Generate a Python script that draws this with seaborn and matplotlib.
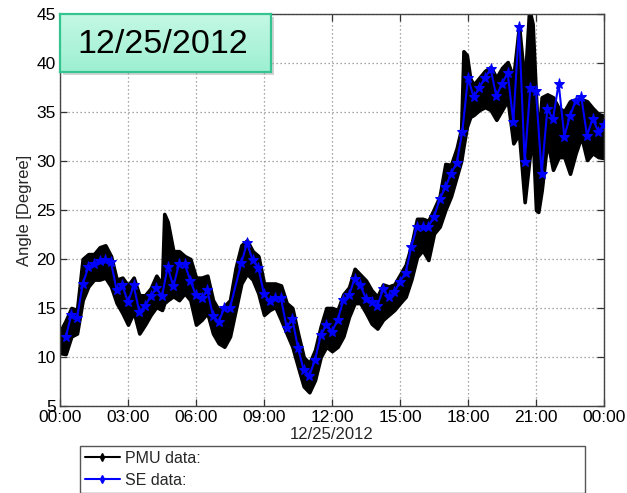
import numpy as np
import pandas as pd
import matplotlib
matplotlib.use("Agg")
import matplotlib.pyplot as plt
from matplotlib.lines import Line2D
from matplotlib.patches import Rectangle
from matplotlib.colors import LinearSegmentedColormap
import seaborn as sns

# ---------------- data ----------------
# SE estimates, every 15 minutes (hours since 00:00)
se_hours = [0.25 * k for k in range(1, 97) if k != 31]
se_angle = [12.0, 14.3, 14.0, 17.4, 19.2, 19.5, 19.8, 19.9, 19.7, 16.8,
            17.3, 15.6, 17.3, 14.6, 15.2, 16.2, 17.0, 16.2, 19.2, 17.2,
            19.5, 19.5, 17.8, 16.3, 16.0, 16.8, 14.2, 13.6, 15.0, 15.0,
            19.6, 21.6, 19.9, 19.1, 16.4, 15.7, 16.0, 16.0, 13.0, 13.9,
            10.9, 8.7, 8.1, 9.7, 12.2, 13.3, 12.6, 13.8, 15.8, 16.3,
            18.0, 17.3, 15.95, 15.6, 15.2, 16.9, 16.1, 16.6, 17.7, 18.6,
            21.25, 23.3, 23.3, 23.3, 24.3, 26.1, 27.3, 28.7, 29.8, 33.0,
            38.5, 36.5, 37.5, 38.5, 39.4, 36.6, 37.9, 39.0, 34.0, 43.7,
            29.9, 37.5, 37.1, 28.7, 35.3, 34.3, 37.9, 32.5, 34.6, 36.15,
            36.5, 32.6, 34.3, 33.0, 33.7]

# PMU data envelope (min / max of the high-rate measurements)
pmu_hours = [0.0, 0.25, 0.5, 0.75, 1.0, 1.25, 1.5, 1.75, 2.0, 2.25,
             2.5, 2.75, 3.0, 3.25, 3.5, 3.75, 4.0, 4.25, 4.5, 4.6,
             4.75, 5.0, 5.25, 5.5, 5.75, 6.0, 6.25, 6.5, 6.75, 7.0,
             7.25, 7.5, 7.75, 8.0, 8.25, 8.5, 8.75, 9.0, 9.25, 9.5,
             9.75, 10.0, 10.25, 10.5, 10.75, 11.0, 11.25, 11.5, 11.75, 12.0,
             12.25, 12.5, 12.75, 13.0, 13.25, 13.5, 13.75, 14.0, 14.25, 14.5,
             14.75, 15.0, 15.25, 15.5, 15.75, 16.0, 16.25, 16.5, 16.75, 17.0,
             17.25, 17.5, 17.7, 17.8, 17.95, 18.1, 18.25, 18.5, 18.75, 19.0,
             19.25, 19.5, 19.75, 20.0, 20.25, 20.5, 20.7, 20.85, 21.0, 21.1,
             21.25, 21.5, 21.75, 22.0, 22.25, 22.5, 22.75, 23.0, 23.25, 23.5,
             23.75, 24.0]
pmu_lower = [10.4, 10.3, 12.1, 12.4, 15.8, 17.2, 17.9, 17.9, 18.1, 17.2,
             15.5, 14.5, 13.3, 14.6, 12.4, 13.3, 14.3, 15.1, 14.8, 15.5,
             15.8, 16.2, 15.8, 16.5, 15.8, 13.3, 13.8, 14.5, 12.4, 11.4,
             11.05, 12.1, 14.8, 17.5, 18.5, 17.9, 16.5, 14.3, 14.8, 15.1,
             13.8, 12.4, 11.05, 9.0, 7.0, 6.4, 7.65, 10.0, 11.05, 10.6,
             11.05, 12.1, 14.1, 15.5, 15.5, 14.5, 13.4, 12.9, 13.8, 14.3,
             14.8, 15.5, 16.15, 17.9, 20.2, 20.9, 19.9, 22.6, 23.3, 25.0,
             26.4, 28.4, 30.0, 31.5, 33.5, 34.5, 34.7, 35.2, 35.5, 35.2,
             34.2, 35.2, 36.2, 31.8, 32.8, 25.8, 30.0, 33.0, 25.0, 24.8,
             27.0, 32.1, 29.1, 30.4, 30.4, 28.7, 30.8, 32.5, 30.1, 30.8,
             30.4, 30.3]
pmu_upper = [12.6, 13.7, 15.0, 14.8, 20.0, 20.5, 20.5, 21.2, 21.4, 20.3,
             17.9, 18.1, 17.3, 18.1, 16.3, 16.3, 17.0, 18.3, 17.4, 24.6,
             23.8, 20.8, 20.8, 20.3, 20.0, 18.1, 18.1, 18.3, 15.8, 14.8,
             15.2, 15.8, 19.1, 21.4, 21.9, 20.8, 20.3, 17.5, 17.5, 17.5,
             17.3, 15.5, 15.0, 12.4, 10.0, 9.35, 10.7, 13.1, 15.0, 15.0,
             14.8, 16.4, 17.1, 19.0, 18.4, 17.8, 16.8, 16.15, 17.4, 17.2,
             17.4, 18.4, 19.4, 21.4, 24.1, 24.1, 23.9, 25.1, 26.4, 29.7,
             29.6, 31.3, 33.3, 41.2, 40.8, 38.4, 37.8, 38.5, 39.2, 39.6,
             38.5, 39.5, 40.1, 38.5, 43.8, 37.8, 45.5, 44.0, 36.5, 32.1,
             36.5, 36.8, 36.5, 35.4, 35.1, 36.1, 36.3, 36.3, 36.1, 35.4,
             34.8, 34.6]

y_ticks = [5, 10, 15, 20, 25, 30, 35, 40, 45]
x_ticks = [0, 3, 6, 9, 12, 15, 18, 21, 24]
x_tick_labels = ["00:00", "03:00", "06:00", "09:00", "12:00",
                 "15:00", "18:00", "21:00", "00:00"]
date_label = "12/25/2012"
legend_labels = ["PMU data:", "SE data:"]

# ---------------- style ----------------
sns.set_theme(style="white")
plt.rcParams["font.family"] = ["Liberation Sans", "DejaVu Sans"]

W, H = 627, 493
fig = plt.figure(figsize=(W / 100, H / 100), dpi=100)
ax = fig.add_axes([60 / W, 1 - 406 / H, 544 / W, 392 / H])

pmu_df = pd.DataFrame({
    "hour": pmu_hours + pmu_hours,
    "angle": pmu_lower + pmu_upper,
})
se_df = pd.DataFrame({"hour": se_hours, "angle": se_angle})

sns.lineplot(data=pmu_df, x="hour", y="angle", estimator="mean",
             errorbar=("pi", 100), color="black", linewidth=1.0,
             err_kws=dict(alpha=1.0, linewidth=2.6, edgecolor="black",
                          facecolor="black", joinstyle="round"),
             ax=ax, zorder=2)
sns.lineplot(data=se_df, x="hour", y="angle", color="#0000ff",
             linewidth=1.5, marker="*", markersize=8,
             markeredgecolor="#0000ff", markerfacecolor="#0000ff",
             errorbar=None, ax=ax, zorder=3)

ax.set_xlim(0, 24)
ax.set_ylim(5, 45)
ax.set_xticks(x_ticks)
ax.set_xticklabels(x_tick_labels)
ax.set_yticks(y_ticks)
ax.grid(True, color="#8c8c8c", linestyle=(0, (1, 2.2)), linewidth=0.9)
ax.tick_params(direction="in", length=5, width=0.9, colors="#333333",
               labelcolor="black", labelsize=12.5, pad=3,
               top=True, right=True, bottom=True, left=True)
for sp in ax.spines.values():
    sp.set_color("#444444")
    sp.set_linewidth(1.0)
ax.set_xlabel(date_label, fontsize=12, labelpad=1)
ax.set_ylabel("Angle [Degree]", fontsize=12, labelpad=3)

# legend (below axes, partly cut off like the source)
handles = [
    Line2D([], [], color="black", lw=1.5, marker="d", markersize=4),
    Line2D([], [], color="#0000ff", lw=1.5, marker="d", markersize=4),
]
fig.legend(handles, legend_labels, loc="upper left",
           bbox_to_anchor=(80 / W, 1 - 446 / H, (585 - 80) / W, 0),
           mode="expand", fontsize=11.5, frameon=True, fancybox=False,
           edgecolor="#555555", framealpha=1, borderpad=0.3,
           labelspacing=0.45, handlelength=2.2, handletextpad=0.3,
           borderaxespad=0)

# title box with mint gradient
bx_l, bx_t, bx_w, bx_h = 60, 14, 211, 58
shadow = Rectangle(((bx_l + 3) / W, 1 - (bx_t + bx_h + 3) / H),
                   bx_w / W, bx_h / H, transform=fig.transFigure,
                   facecolor="#a8a8a8", edgecolor="none", alpha=0.5,
                   zorder=1)
fig.patches.append(shadow)
bx = fig.add_axes([bx_l / W, 1 - (bx_t + bx_h) / H, bx_w / W, bx_h / H])
bx.set_zorder(2)
cmap = LinearSegmentedColormap.from_list("mint", ["#c4f8e4", "#9df0d2"])
grad = np.linspace(0, 1, 64).reshape(-1, 1)
bx.imshow(grad, cmap=cmap, aspect="auto", extent=[0, 1, 0, 1],
          origin="upper")
bx.set_xlim(0, 1)
bx.set_ylim(0, 1)
bx.set_xticks([])
bx.set_yticks([])
for sp in bx.spines.values():
    sp.set_color("#35c390")
    sp.set_linewidth(1.6)
bx.text(0.485, 0.48, date_label, fontsize=24.5, ha="center", va="center",
        color="black")

fig.savefig("out.png", dpi=100)
